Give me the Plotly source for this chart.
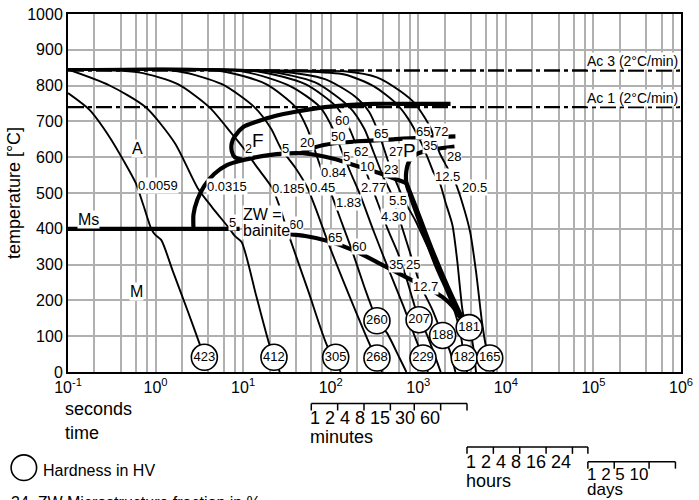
import numpy as np
import plotly.graph_objects as go

FONT = "Liberation Sans, Arial, Helvetica, sans-serif"

# ---------------- data (time as log10 seconds, temperature in °C) ----------------
AC3_TEMP = 842
AC1_TEMP = 740
MS_TEMP = 400

A_logt = [-1.0, -0.754, -0.530, -0.362, -0.227, -0.138, -0.048, -0.003, 0.064, 0.198, 0.366, 0.501, 0.557, 0.602]
A_temp = [779, 732, 658, 589, 528, 465, 399, 383, 369, 281, 171, 80, 41, 6]

B_logt = [-1.0, -0.530, -0.115, 0.221, 0.478, 0.646, 0.848, 0.904, 0.982, 1.150, 1.296, 1.352, 1.419]
B_temp = [845, 801, 740, 639, 515, 460, 399, 380, 363, 212, 80, 41, 0]

C_logt = [-1.0, -0.194, 0.254, 0.613, 0.870, 1.005, 1.150, 1.329, 1.408, 1.520, 1.744, 1.968, 2.057, 2.113]
C_temp = [845, 837, 804, 740, 666, 625, 575, 515, 468, 383, 226, 69, 41, 0]

D_logt = [-1.0, 0.254, 0.758, 1.128, 1.318, 1.430, 1.598, 1.733, 1.845, 1.968, 2.214, 2.461, 2.528, 2.584]
D_temp = [845, 840, 804, 740, 680, 625, 570, 515, 446, 363, 212, 69, 39, 0]

E_logt = [-1.0, 0.758, 1.262, 1.598, 1.733, 1.822, 1.912, 2.001, 2.125, 2.248, 2.382, 2.483, 2.528, 2.640, 2.786, 2.864]
E_temp = [845, 840, 804, 740, 680, 617, 553, 501, 418, 336, 239, 171, 143, 110, 39, 0]

F_logt = [-1.0, 0.982, 1.542, 1.878, 2.024, 2.136, 2.237, 2.326, 2.494, 2.662, 2.830, 2.965, 3.054, 3.110]
F_temp = [845, 840, 798, 740, 680, 611, 551, 501, 391, 286, 184, 96, 39, 0]

G_logt = [-1.0, 1.150, 1.710, 2.069, 2.214, 2.326, 2.416, 2.494, 2.651, 2.774, 2.864, 2.942, 3.009, 3.088, 3.166, 3.256]
G_temp = [845, 840, 804, 740, 680, 611, 551, 501, 399, 328, 262, 198, 146, 110, 61, 0]

H_logt = [-1.0, 1.262, 1.822, 2.214, 2.382, 2.494, 2.606, 2.685, 2.797, 2.920, 3.021, 3.166, 3.278, 3.357, 3.424]
H_temp = [845, 840, 809, 740, 680, 611, 542, 501, 418, 322, 245, 171, 102, 61, 0]

I_logt = [-1.0, 1.374, 1.934, 2.270, 2.438, 2.550, 2.662, 2.774, 2.853, 2.965, 3.133, 3.301, 3.413, 3.480, 3.525, 3.558]
I_temp = [845, 840, 818, 771, 727, 666, 584, 515, 473, 424, 336, 245, 171, 110, 39, 0]

J_logt = [-1.0, 1.598, 2.158, 2.494, 2.752, 2.886, 3.021, 3.110, 3.177, 3.245, 3.312, 3.390, 3.446, 3.480, 3.513, 3.581, 3.625, 3.659]
J_temp = [845, 840, 831, 798, 749, 707, 647, 597, 556, 528, 473, 410, 308, 226, 162, 124, 74, 0]

K_logt = [-1.0, 1.598, 2.158, 2.528, 2.797, 2.965, 3.133, 3.245, 3.334, 3.424, 3.502, 3.592, 3.659, 3.726, 3.771, 3.816, 3.861]
K_temp = [845, 842, 840, 823, 784, 749, 685, 611, 570, 528, 473, 391, 281, 143, 74, 39, 0]

cooling_curves = [(A_logt, A_temp), (B_logt, B_temp), (C_logt, C_temp), (D_logt, D_temp),
                  (E_logt, E_temp), (F_logt, F_temp), (G_logt, G_temp), (H_logt, H_temp),
                  (I_logt, I_temp), (J_logt, J_temp), (K_logt, K_temp)]

# phase boundaries
Ms_logt = [-1.0, 0.960]
Ms_temp = [MS_TEMP, MS_TEMP]
Fs_logt = [3.368, 2.942, 2.494, 1.934, 1.598, 1.374, 1.150, 1.005, 0.904, 0.870, 0.870, 0.904, 1.005]
Fs_temp = [749, 749, 749, 740, 727, 716, 699, 685, 658, 639, 617, 600, 592]
Bs_logt = [0.433, 0.433, 0.478, 0.557, 0.669, 0.814, 1.005, 1.296, 1.677, 2.046, 2.326, 2.606, 2.864]
Bs_temp = [399, 440, 482, 520, 553, 578, 592, 606, 611, 595, 573, 551, 528]
Ps_logt = [1.654, 1.822, 2.046, 2.304, 2.718, 3.054, 3.424]
Ps_temp = [611, 628, 639, 644, 650, 655, 658]
Pe_logt = [3.413, 3.110, 2.976, 2.897, 2.864, 2.864, 2.897, 2.976, 3.088, 3.200, 3.334, 3.446, 3.525]
Pe_temp = [630, 619, 608, 589, 562, 528, 501, 446, 372, 300, 226, 165, 138]
Pf_logt = [2.864, 2.953, 3.144, 3.334, 3.525]
Pf_temp = [528, 473, 350, 239, 138]
Be_logt = [1.509, 1.710, 1.968, 2.270, 2.606, 2.909, 3.133, 3.278, 3.390, 3.469, 3.525]
Be_temp = [385, 380, 366, 339, 297, 259, 231, 209, 184, 157, 138]
boundaries = [(Ms_logt, Ms_temp), (Fs_logt, Fs_temp), (Bs_logt, Bs_temp), (Ps_logt, Ps_temp),
              (Pe_logt, Pe_temp), (Pf_logt, Pf_temp), (Be_logt, Be_temp)]

# hardness circles
HV_values = [423, 412, 305, 268, 260, 229, 207, 188, 181, 182, 165]
HV_logt = [0.557, 1.352, 2.057, 2.528, 2.528, 3.054, 3.009, 3.278, 3.581, 3.525, 3.816]
HV_temp = [41, 41, 41, 39, 143, 39, 146, 102, 124, 39, 39]

# curve labels (cooling parameter)
curve_label_text = ["0.0059", "0.0315", "0.185", "0.45", "0.84", "1.83", "2.77", "4.30", "5.5", "12.5", "20.5"]
curve_label_logt = [0.030, 0.814, 1.520, 1.901, 2.035, 2.203, 2.494, 2.718, 2.774, 3.334, 3.637]
curve_label_temp = [520, 517, 512, 514, 557, 473, 515, 435, 479, 545, 515]

# phase fraction labels
frac_text = ["5", "2", "5", "20", "60", "50", "5", "62", "10", "65", "27", "23", "65", "72", "35", "28",
             "60", "65", "60", "35", "25", "12.7"]
frac_logt = [0.881, 1.061, 1.486, 1.733, 2.125, 2.080, 2.181, 2.349, 2.416, 2.573, 2.741, 2.685,
             3.054, 3.256, 3.133, 3.413, 1.598, 2.046, 2.326, 2.741, 2.942, 3.088]
frac_temp = [418, 625, 625, 641, 702, 658, 603, 616, 575, 666, 616, 567,
             672, 672, 633, 603, 413, 377, 350, 300, 300, 239]

# region letters
region_text = ["A", "M", "Ms", "F", "P"]
region_logt = [-0.205, -0.216, -0.765, 1.173, 2.897]
region_temp = [625, 226, 427, 647, 619]

# x axis ticks
decades = [-1, 0, 1, 2, 3, 4, 5, 6]
grid_mults = [2, 4, 6, 8]

# time scales below the axis
minute_marks = [1, 2, 4, 8, 15, 30, 60]
hour_marks = [1, 2, 4, 8, 16, 24]
day_marks = [1, 2, 5, 10]

# ---------------- figure ----------------
fig = go.Figure()

def add_line(logt, temp, width, dash=None, shape="spline"):
    fig.add_trace(go.Scatter(
        x=np.power(10.0, np.array(logt)), y=temp, mode="lines",
        line=dict(color="black", width=width, dash=dash, shape=shape, smoothing=0.7),
        hoverinfo="skip", showlegend=False))

DASHDOT = "16px,4px,4px,4px"
add_line([-1, 6], [AC3_TEMP, AC3_TEMP], 2.4, DASHDOT, "linear")
add_line([-1, 6], [AC1_TEMP, AC1_TEMP], 2.4, DASHDOT, "linear")

for lt, tp in cooling_curves:
    add_line(lt, tp, 1.9)
for lt, tp in boundaries:
    add_line(lt, tp, 4.2)

fig.add_trace(go.Scatter(
    x=np.power(10.0, np.array(HV_logt)), y=HV_temp, mode="markers+text",
    text=[str(v) for v in HV_values], textposition="middle center",
    textfont=dict(family=FONT, size=13, color="black"),
    marker=dict(size=26, color="white", line=dict(color="black", width=1.6)),
    hoverinfo="skip", showlegend=False, cliponaxis=False))

annotations = []

def data_label(text, lt, tp, size, bg="white"):
    annotations.append(dict(x=lt, y=tp, xref="x", yref="y", text=text, showarrow=False,
                            font=dict(family=FONT, size=size, color="black"),
                            bgcolor=bg, borderpad=0, xanchor="center", yanchor="middle"))

for t, lt, tp in zip(curve_label_text, curve_label_logt, curve_label_temp):
    data_label(t, lt, tp, 13)
for t, lt, tp in zip(frac_text, frac_logt, frac_temp):
    data_label(t, lt, tp, 13)
for t, lt, tp in zip(region_text, region_logt, region_temp):
    data_label(t, lt, tp, 19 if t in ("F", "P") else 16)

# ZW = bainite
annotations.append(dict(x=0.982, y=440, xref="x", yref="y", text="ZW =", showarrow=False,
                        font=dict(family=FONT, size=16), bgcolor="white", borderpad=0,
                        xanchor="left", yanchor="middle"))
annotations.append(dict(x=0.982, y=396, xref="x", yref="y", text="bainite", showarrow=False,
                        font=dict(family=FONT, size=16), bgcolor="white", borderpad=0,
                        xanchor="left", yanchor="middle"))
# Ac labels
annotations.append(dict(x=5.975, y=869, xref="x", yref="y", text="Ac 3 (2°C/min)", showarrow=False,
                        font=dict(family=FONT, size=14), bgcolor="white", borderpad=0,
                        xanchor="right", yanchor="middle"))
annotations.append(dict(x=5.975, y=765, xref="x", yref="y", text="Ac 1 (2°C/min)", showarrow=False,
                        font=dict(family=FONT, size=14), bgcolor="white", borderpad=0,
                        xanchor="right", yanchor="middle"))

# --- below-axis scales (positions in pixels converted to paper) ---
PLOT_L, PLOT_W, PLOT_B, PLOT_H = 68, 625, 372, 363

def py(ypix):
    return (PLOT_B - ypix) / PLOT_H

def px(xpix):
    return (xpix - PLOT_L) / PLOT_W

def pxs(seconds):
    return (np.log10(seconds) + 1) / 7.0

def paper_text(text, x, y, size=17, anchor="left"):
    annotations.append(dict(x=x, y=y, xref="paper", yref="paper", text=text, showarrow=False,
                            font=dict(family=FONT, size=size, color="black"),
                            xanchor=anchor, yanchor="middle"))

shapes = []
label_marks = {"minutes": minute_marks, "hours": hour_marks, "days": day_marks}

def bracket(seconds_list, ybar, label_y, word, word_y, size=18):
    xs = [pxs(s) for s in seconds_list]
    shapes.append(dict(type="line", xref="paper", yref="paper", x0=xs[0], x1=xs[-1],
                       y0=py(ybar), y1=py(ybar), line=dict(color="black", width=1.5)))
    for xv in xs:
        shapes.append(dict(type="line", xref="paper", yref="paper", x0=xv, x1=xv,
                           y0=py(ybar), y1=py(ybar + 7), line=dict(color="black", width=1.5)))
    paper_text(" ".join(str(m) for m in label_marks[word]), xs[0] - 3 / PLOT_W, py(label_y), size=size)
    paper_text(word, xs[0] - 3 / PLOT_W, py(word_y), size=size)

bracket([m * 60 for m in minute_marks], 404, 419, "minutes", 438)
bracket([h * 3600 for h in hour_marks], 448, 463, "hours", 483)
bracket([d * 86400 for d in day_marks], 463, 476, "days", 491, size=17)

paper_text("seconds", px(63), py(410), size=18)
paper_text("time", px(63), py(434), size=18)

# hardness legend
shapes.append(dict(type="circle", xref="paper", yref="paper", x0=px(10), x1=px(36),
                   y0=py(482), y1=py(456), line=dict(color="black", width=1.6), fillcolor="white"))
paper_text("Hardness in HV", px(40), py(472), size=16)
paper_text("34  ZW Microstructure fraction in %", px(8), py(504), size=16)

major_vals = [10.0 ** k for k in decades]
major_text = [f"10<sup>{k}</sup>" for k in decades]
minor_vals = [m * 10.0 ** k for k in decades[:-1] for m in grid_mults]

fig.update_layout(
    width=699, height=500,
    margin=dict(l=68, r=6, t=9, b=128),
    paper_bgcolor="white", plot_bgcolor="white",
    font=dict(family=FONT, color="black"),
    showlegend=False,
    annotations=annotations, shapes=shapes,
)
GRID = "#b0b0b0"
fig.update_xaxes(type="log", range=[-1, 6], tickmode="array", tickvals=major_vals, ticktext=major_text,
                 showgrid=True, gridcolor=GRID, gridwidth=1.5, ticklabeloverflow="allow",
                 minor=dict(tickmode="array", tickvals=minor_vals, showgrid=True, gridcolor=GRID,
                            gridwidth=1.5, ticks=""),
                 showline=True, linecolor="black", linewidth=2, mirror=True,
                 ticks="", tickfont=dict(size=16, family=FONT), zeroline=False)
fig.update_yaxes(range=[0, 1000], dtick=100, showgrid=True, gridcolor=GRID, gridwidth=1.5,
                 showline=True, linecolor="black", linewidth=2, mirror=True, ticklabeloverflow="allow",
                 ticks="", tickfont=dict(size=16, family=FONT), zeroline=False,
                 title=dict(text="temperature [°C]", font=dict(size=18, family=FONT), standoff=2))

fig.write_html("out.html", config={"displayModeBar": False},
               post_script="document.body.style.margin='0px';")
